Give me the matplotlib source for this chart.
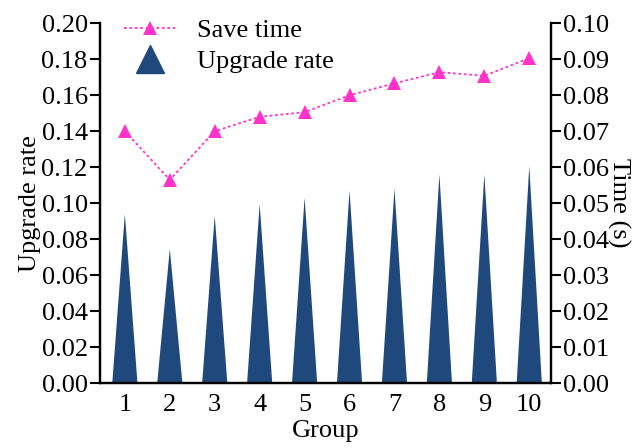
import numpy as np
import matplotlib.pyplot as plt

# data
groups = [1, 2, 3, 4, 5, 6, 7, 8, 9, 10]
upgrade_rate = [0.094, 0.0745, 0.093, 0.0995, 0.103, 0.107, 0.108, 0.116, 0.116, 0.1205]
save_time = [0.070, 0.0565, 0.070, 0.074, 0.0753, 0.080, 0.0833, 0.0864, 0.0854, 0.0903]

bar_color = '#1F497D'
line_color = '#FF33CC'

plt.rcParams['font.family'] = ['Liberation Serif', 'DejaVu Serif']
plt.rcParams['font.size'] = 19

fig, ax = plt.subplots(figsize=(6.42, 4.48), dpi=100)
fig.subplots_adjust(left=0.156, right=0.858, top=0.948, bottom=0.145)

# triangle "bars"
hw = 0.28
for g, v in zip(groups, upgrade_rate):
    ax.fill([g - hw, g, g + hw], [0, v, 0], color=bar_color, lw=0)

ax.set_xlim(0.45, 10.48)
ax.set_ylim(0, 0.20)
ax.set_yticks(np.arange(0, 0.201, 0.02))
ax.set_yticklabels([f'{t:.2f}' for t in np.arange(0, 0.201, 0.02)])
ax.set_xticks(groups)
ax.tick_params(axis='x', length=0, pad=8)
ax.tick_params(axis='y', direction='out', length=7, width=1.5, pad=2)
ax.set_xlabel('Group', labelpad=3)
ax.set_ylabel('Upgrade rate', labelpad=0)
ax.spines['top'].set_visible(False)
for s in ['left', 'bottom', 'right']:
    ax.spines[s].set_linewidth(1.6)

ax2 = ax.twinx()
ax2.plot(groups, save_time, linestyle=(0, (1.5, 1.5)), color=line_color, lw=1.3,
         marker='^', markersize=10, markeredgewidth=0)
ax2.set_ylim(0, 0.10)
ax2.set_yticks(np.arange(0, 0.101, 0.01))
ax2.set_yticklabels([f'{t:.2f}' for t in np.arange(0, 0.101, 0.01)])
ax2.tick_params(axis='y', direction='out', length=7, width=1.5, pad=2)
ax2.set_ylabel('Time (s)', rotation=-90, labelpad=-2, va='bottom')
ax2.spines['top'].set_visible(False)
for s in ['left', 'bottom', 'right']:
    ax2.spines[s].set_linewidth(1.6)

h1 = plt.Line2D([], [], linestyle=(0, (1.5, 1.5)), color=line_color, lw=1.3,
                marker='^', markersize=10, markeredgewidth=0)
h2 = plt.Line2D([], [], linestyle='none', color=bar_color, marker='^', markersize=20)
ax2.legend([h1, h2], ['Save time', 'Upgrade rate'], loc='upper left',
           bbox_to_anchor=(0.012, 1.065), frameon=False, handlelength=2.0,
           handletextpad=0.75, labelspacing=0.3, borderpad=0.2)

plt.savefig('out.png', dpi=100)
